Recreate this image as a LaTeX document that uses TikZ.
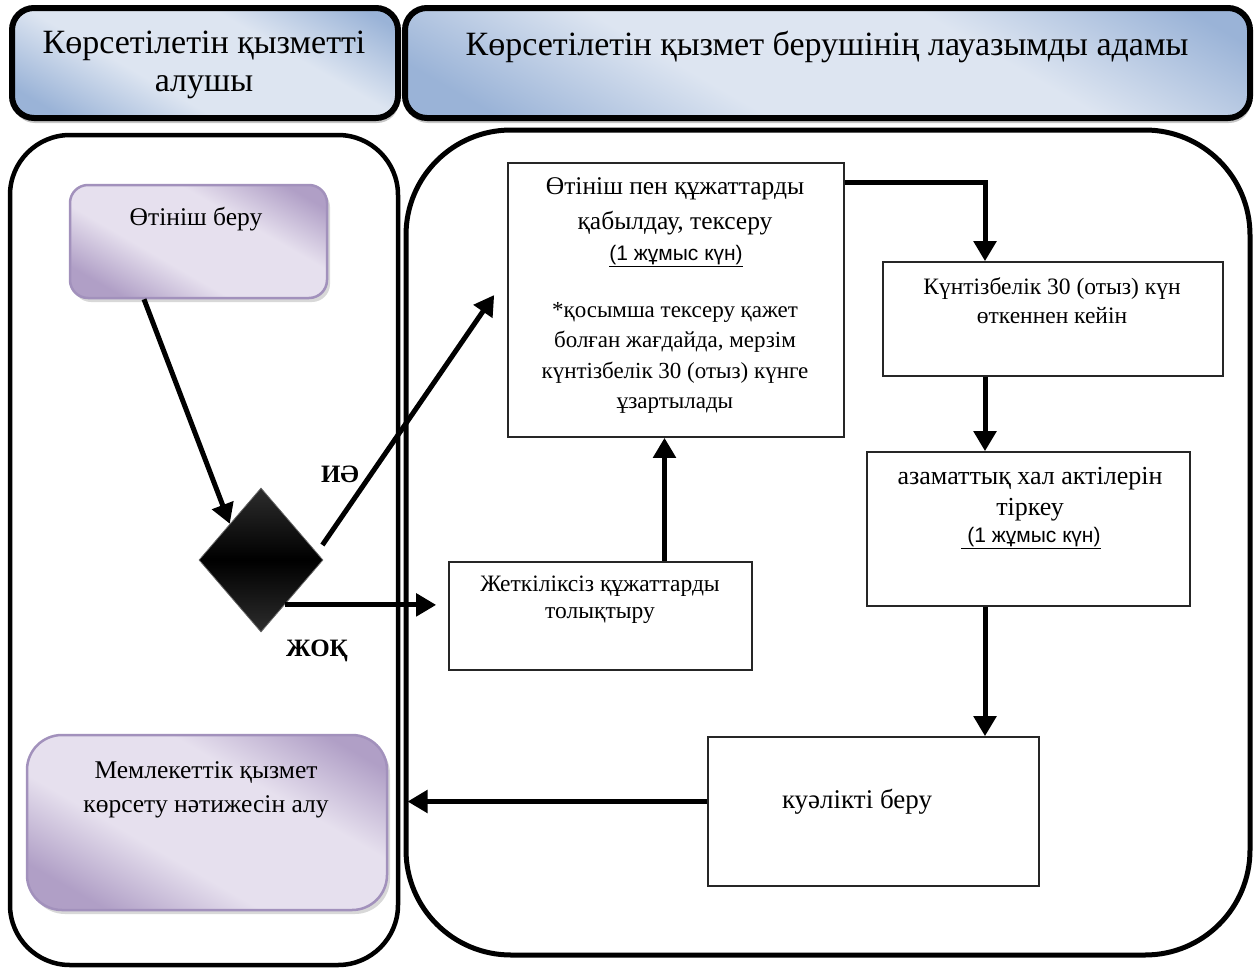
\documentclass[tikz,border=0pt]{standalone}
\usepackage{fontspec}
\setmainfont{Liberation Serif}
\newfontfamily\sansf{Liberation Sans}
\usetikzlibrary{arrows.meta,shapes.geometric,shadows,calc}
\definecolor{hdrdark}{HTML}{9AB3D7}
\definecolor{hdrlight}{HTML}{DDE5F1}
\definecolor{purdark}{HTML}{B09FC6}
\definecolor{purlight}{HTML}{E6E0EE}
\definecolor{purline}{HTML}{A291BC}
\pgfdeclarehorizontalshading{hdrshade}{100bp}{color(0bp)=(hdrdark); color(22bp)=(hdrdark); color(40bp)=(hdrlight); color(62bp)=(hdrlight); color(80bp)=(hdrdark); color(100bp)=(hdrdark)}
\pgfdeclarehorizontalshading{purshade}{100bp}{color(0bp)=(purdark); color(24bp)=(purdark); color(40bp)=(purlight); color(62bp)=(purlight); color(78bp)=(purdark); color(100bp)=(purdark)}
\pgfdeclareverticalshading{diashade}{100bp}{color(0bp)=(black!65); color(50bp)=(black); color(100bp)=(black!65)}
\begin{document}
\begin{tikzpicture}[x=1pt,y=-1pt,
  hdr/.style={draw=black, line width=6pt, rounded corners=22pt, shade, shading=hdrshade, shading angle=60,
    drop shadow={opacity=0.45, shadow xshift=1pt, shadow yshift=-5pt}, inner sep=0pt},
  lane/.style={draw=black, line width=4.5pt, fill=white, inner sep=0pt},
  purp/.style={draw=purline, line width=2.5pt, shade, shading=purshade, shading angle=60,
    drop shadow={opacity=0.3, shadow xshift=3pt, shadow yshift=-4pt}, inner sep=0pt},
  box/.style={draw=black!85, line width=1.6pt, fill=white, inner sep=0pt},
  arr/.style={line width=5pt, -{Triangle[length=20pt,width=22pt]}},
  txt/.style={align=center, inner sep=0pt, font=\fontsize{24}{30}\selectfont},
  small/.style={align=center, inner sep=0pt, font=\sansf\fontsize{21}{24}\selectfont},
  lbl/.style={inner sep=0pt, font=\bfseries\fontsize{25}{28}\selectfont}]
\useasboundingbox (0,0) rectangle (1258,969);
% headers
\node[hdr, minimum width=386pt, minimum height=110pt] (hdrL) at (205,63) {};
\node[hdr, minimum width=845pt, minimum height=110pt] (hdrR) at (827.5,63) {};
\node[txt, font=\fontsize{34}{38}\selectfont] (hdrLt) at (204,65) {Көрсетілетін қызметті\\алушы};
\node[txt, font=\fontsize{34}{38}\selectfont] (hdrRt) at (827,47) {Көрсетілетін қызмет берушінің лауазымды адамы};
% lanes
\node[lane, rounded corners=60pt, minimum width=388pt, minimum height=830pt] (laneL) at (204,550) {};
\node[lane, line width=5pt, rounded corners=105pt, minimum width=844pt, minimum height=825pt] (laneR) at (828,542.5) {};
% purple boxes
\node[purp, rounded corners=18pt, minimum width=257pt, minimum height=113pt] (apply) at (198.5,241.5) {};
\node[txt, font=\fontsize{25.5}{30}\selectfont] (applyt) at (196,219) {Өтініш беру};
\node[purp, rounded corners=35pt, minimum width=360pt, minimum height=175pt] (result) at (207,822.5) {};
\node[txt, font=\fontsize{25.5}{34}\selectfont] (resultt) at (206,790) {Мемлекеттік қызмет\\көрсету нәтижесін алу};
% diamond
\node[diamond, shade, shading=diashade, draw=black!60, line width=0.8pt, minimum width=124pt, minimum height=144pt, inner sep=0pt] (dia) at (261,560) {};
% process boxes
\node[box, minimum width=336pt, minimum height=274pt] (b1) at (676,300) {};
\node[txt, font=\fontsize{25.5}{35}\selectfont] (b1t) at (675,206) {Өтініш пен құжаттарды\\қабылдау, тексеру};
\node[small] (b1s) at (676,256) {\underline{(1 жұмыс күн)}};
\node[txt, font=\fontsize{23}{30.3}\selectfont] (b1n) at (675,358) {*қосымша тексеру қажет\\болған жағдайда, мерзім\\күнтізбелік 30 (отыз) күнге\\ұзартылады};
\node[box, minimum width=303pt, minimum height=108pt] (zhet) at (600.5,616) {};
\node[txt, font=\fontsize{23.5}{27}\selectfont] (zhett) at (600,600) {Жеткіліксіз құжаттарды\\толықтыру};
\node[box, minimum width=340pt, minimum height=114pt] (kun) at (1053,319) {};
\node[txt, font=\fontsize{23.5}{29}\selectfont] (kunt) at (1052,301) {Күнтізбелік 30 (отыз) күн\\өткеннен кейін};
\node[box, minimum width=323pt, minimum height=154pt] (azam) at (1028.5,529) {};
\node[txt, font=\fontsize{26}{31}\selectfont] (azamt) at (1030,494) {азаматтық хал актілерін\\тіркеу};
\node[small] (azams) at (1031,538) {\underline{\ (1 жұмыс күн)}};
\node[box, minimum width=331pt, minimum height=149pt] (kual) at (873.5,811.5) {};
\node[txt, font=\fontsize{27}{30}\selectfont] (kualt) at (857,802) {куәлікті беру};
% labels
\node[lbl] (yes) at (340,474) {ИӘ};
\node[lbl] (no) at (317,651) {ЖОҚ};
% connectors
\coordinate (a0) at ($(apply.south west)!0.29!(apply.south east)$);
\draw[arr] (a0) -- (dia.north west);
\coordinate (y0) at ($(dia.east)+(-1,-15)$);
\coordinate (y1) at ($(b1.west)+(-13,-5)$);
\draw[arr] (y0) -- (y1);
\coordinate (n0) at ($(dia.east)!0.62!(dia.south)$);
\draw[arr] (n0) -- ($(zhet.west |- n0)+(-12,0)$);
\coordinate (z0) at ($(zhet.north)+(64,0)$);
\draw[arr] (z0) -- (z0 |- b1.south);
\coordinate (r0) at ($(b1.north east)+(0,20)$);
\coordinate (vx) at (985,0);
\draw[arr] (r0) -| (vx |- kun.north);
\draw[arr] (vx |- kun.south) -- (vx |- azam.north);
\draw[arr] (vx |- azam.south) -- (vx |- kual.north);
\coordinate (k0) at ($(kual.west)+(0,-10)$);
\draw[arr] (k0) -- ($(laneR.west |- k0)+(4,0)$);
\end{tikzpicture}
\end{document}
